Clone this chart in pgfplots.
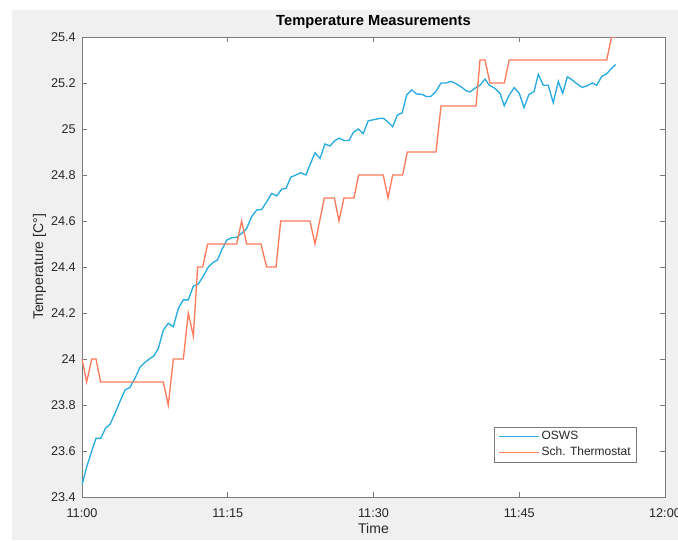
\documentclass[border=0pt]{standalone}
\usepackage{pgfplots}
\pgfplotsset{compat=1.18}
\usepackage{fontspec}
\setmainfont{Liberation Sans}
\definecolor{figbg}{HTML}{F0F0F0}
\definecolor{oswsblue}{HTML}{28ACE2}
\definecolor{thermored}{HTML}{FF7B5C}
\definecolor{axgray}{HTML}{7A7A7A}
\definecolor{txtgray}{HTML}{262626}
\begin{document}
\begin{tikzpicture}[x=0.75pt,y=0.75pt]
\path[use as bounding box] (0,0) rectangle (678,540);
\clip (0,0) rectangle (678,540);
\fill[white] (0,0) rectangle (678,540);
\fill[figbg] (12,0) rectangle (678,530);
\begin{axis}[
  at={(61.5pt,32.25pt)}, anchor=south west,
  scale only axis, width=437.25pt, height=345pt,
  xmin=0, xmax=60, ymin=23.4, ymax=25.4,
  axis background/.style={fill=white},
  axis line style={axgray, line width=0.6pt},
  every tick/.style={axgray, line width=0.6pt},
  tick align=inside, major tick length=4pt,
  xtick={0,15,30,45,60},
  xticklabels={11:00,11:15,11:30,11:45,12:00},
  ytick={23.4,23.6,23.8,24,24.2,24.4,24.6,24.8,25,25.2,25.4},
  yticklabels={23.4,23.6,23.8,24,24.2,24.4,24.6,24.8,25,25.2,25.4},
  tick label style={font=\fontsize{9.5}{11}\selectfont, text=txtgray},
  xticklabel style={anchor=base, inner sep=0pt},
  xticklabel shift=15pt,
  yticklabel style={anchor=east, inner sep=0pt},
  yticklabel shift=4.5pt,
  xlabel={Time},
  xlabel style={at={(axis description cs:0.5,-0.0783)}, anchor=base, inner sep=0pt, font=\fontsize{10.5}{12}\selectfont, text=txtgray},
  ylabel={Temperature [C°]},
  ylabel style={at={(axis description cs:-0.0669,0.5)}, anchor=base, inner sep=0pt, font=\fontsize{10.5}{12}\selectfont, text=txtgray},
  title={Temperature Measurements},
  title style={at={(axis description cs:0.5,1.0087)}, anchor=base, inner sep=0pt, font=\fontsize{11}{13}\bfseries, text=black},
  legend style={at={(0.7067,0.1522)}, anchor=north west, draw=axgray, fill=white,
    font=\fontsize{9}{10.5}\selectfont, inner xsep=3.2pt, inner ysep=1.75pt, row sep=1.5pt,
    nodes={inner sep=1.3pt, text=txtgray}},
  legend cell align=left,
  legend image code/.code={\draw[#1] (0pt,0pt) -- (30pt,0pt);},
]
\addplot[oswsblue, line width=1pt] coordinates {
(0,23.452) (0.48,23.53) (1.0,23.60) (1.44,23.655) (1.92,23.655) (2.44,23.70)
(2.88,23.716) (3.4,23.764) (3.9,23.815) (4.43,23.865) (4.94,23.877) (5.45,23.916)
(5.97,23.964) (6.48,23.986) (6.93,24.0) (7.41,24.014) (7.86,24.046) (8.37,24.126)
(8.88,24.155) (9.4,24.14) (9.91,24.22) (10.43,24.257) (10.94,24.257) (11.46,24.317)
(11.97,24.326) (12.48,24.36) (13.0,24.40) (13.5,24.42) (13.93,24.43) (14.38,24.474)
(14.9,24.517) (15.4,24.527) (15.92,24.529) (16.43,24.546) (16.95,24.568) (17.46,24.619)
(17.98,24.648) (18.49,24.65) (19.0,24.683) (19.52,24.72) (20.04,24.709) (20.55,24.738)
(21.0,24.742) (21.48,24.79) (22.02,24.8) (22.5,24.81) (23.05,24.8) (23.53,24.851)
(23.98,24.897) (24.5,24.872) (25.0,24.935) (25.52,24.926) (26.04,24.95) (26.48,24.96)
(26.96,24.95) (27.48,24.95) (27.92,24.985) (28.44,25.0) (28.95,24.98) (29.46,25.036)
(29.98,25.04) (30.5,25.045) (31.0,25.047) (31.5,25.03) (31.97,25.01) (32.45,25.06)
(32.96,25.071) (33.41,25.148) (33.93,25.17) (34.44,25.152) (34.96,25.151) (35.47,25.141)
(35.88,25.141) (36.4,25.162) (36.95,25.2) (37.46,25.2) (37.97,25.207) (38.49,25.197)
(39.0,25.184) (39.52,25.167) (39.93,25.161) (40.44,25.177) (40.96,25.19) (41.47,25.217)
(41.92,25.19) (42.5,25.177) (43.02,25.155) (43.46,25.101) (43.97,25.148) (44.49,25.18)
(45.0,25.155) (45.49,25.093) (46.0,25.151) (46.52,25.162) (46.96,25.238) (47.48,25.19)
(47.99,25.19) (48.5,25.114) (49.02,25.207) (49.47,25.155) (49.95,25.227) (50.46,25.213)
(50.98,25.195) (51.49,25.181) (52.0,25.188) (52.52,25.2) (52.97,25.19) (53.48,25.228)
(54.0,25.24) (54.5,25.264) (54.92,25.28)
};
\addlegendentry{OSWS}
\addplot[thermored, line width=1pt] coordinates {
(0,24.0) (0.48,23.9) (1.0,24.0) (1.44,24.0) (1.92,23.9) (8.37,23.9) (8.88,23.8)
(9.4,24.0) (10.43,24.0) (10.94,24.2) (11.46,24.1) (11.9,24.4) (12.42,24.4) (12.93,24.5)
(15.92,24.5) (16.43,24.6) (16.95,24.5) (18.42,24.5) (19.0,24.4) (19.97,24.4) (20.45,24.6)
(23.46,24.6) (23.98,24.5) (24.94,24.7) (25.97,24.7) (26.45,24.6) (26.96,24.7) (27.99,24.7)
(28.47,24.8) (31.0,24.8) (31.5,24.7) (31.97,24.8) (33.0,24.8) (33.48,24.9) (36.43,24.9)
(36.95,25.1) (40.55,25.1) (40.96,25.3) (41.47,25.3) (41.99,25.2) (43.46,25.2) (43.97,25.3)
(54.0,25.3) (54.5,25.4) (54.92,25.4)
};
\addlegendentry{Sch. Thermostat}
\end{axis}
\end{tikzpicture}
\end{document}
